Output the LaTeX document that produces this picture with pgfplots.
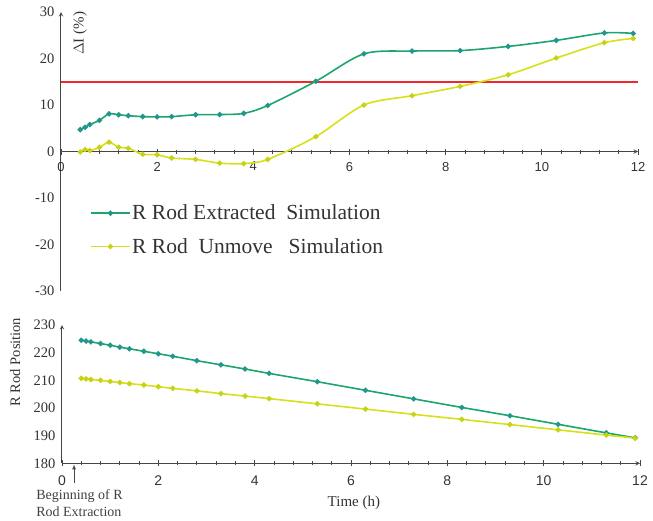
\documentclass[border=0pt]{standalone}
\usepackage{fontspec}
\setmainfont{Liberation Serif}
\newfontfamily\sansf{Liberation Sans}
\usepackage{pgfplots}
\pgfplotsset{compat=1.18}
\definecolor{cgreen}{RGB}{28,165,108}
\definecolor{cgreenm}{RGB}{35,150,140}
\definecolor{cyellow}{RGB}{215,225,25}
\definecolor{cyellowm}{RGB}{200,210,20}
\definecolor{cred}{RGB}{238,40,45}
\definecolor{caxis}{RGB}{70,70,70}
\pgfplotstableread{
x g y
0.4 4.7 -0.1
0.5 5.2 0.4
0.6 5.8 0.2
0.8 6.7 0.9
1.0 8.1 2.0
1.2 7.9 0.9
1.4 7.7 0.7
1.7 7.5 -0.6
2.0 7.45 -0.7
2.3 7.5 -1.4
2.8 7.9 -1.7
3.3 7.95 -2.5
3.8 8.2 -2.6
4.3 9.9 -1.7
5.3 15.1 3.2
6.3 21.0 10.0
7.3 21.6 12.0
8.3 21.7 14.0
9.3 22.6 16.5
10.3 23.9 20.1
11.3 25.5 23.4
11.9 25.4 24.3
}\topdata
\pgfplotstableread{
x g y
0.4 224.5 210.7
0.5 224.2 210.5
0.6 223.9 210.3
0.8 223.3 210.0
1.0 222.7 209.6
1.2 222.0 209.2
1.4 221.4 208.8
1.7 220.5 208.3
2.0 219.6 207.7
2.3 218.7 207.1
2.8 217.1 206.2
3.3 215.6 205.2
3.8 214.1 204.3
4.3 212.5 203.4
5.3 209.5 201.5
6.3 206.4 199.6
7.3 203.3 197.7
8.3 200.2 195.9
9.3 197.2 194.0
10.3 194.1 192.1
11.3 191.0 190.2
11.9 189.2 189.1
}\botdata
\begin{document}
\begin{tikzpicture}
\useasboundingbox (0,0) rectangle (653pt,-520pt);
\pgfplotsset{
 common/.style={
  scale only axis,
  xmin=0, xmax=12,
  xtick={0,2,...,12},
  minor x tick num=4,
  /pgf/number format/assume math mode=true,
  y tick label style={font=\fontsize{14.5}{17}\selectfont, text=black!80},
  axis line style={caxis, line width=1pt, -latex},
  tick style={draw=caxis, line width=0.8pt},
  major tick length=6pt, minor tick length=4pt,
  tick align=inside,
  every y tick/.append style={draw=none},
  hide obscured x ticks=false, hide obscured y ticks=false,
  clip=false,
 },
 gline/.style={cgreen, line width=1.6pt, mark=*, mark size=1.8pt, mark options={draw=cgreenm, fill=cgreenm}},
 yline/.style={cyellow, line width=1.6pt, mark=*, mark size=1.8pt, mark options={draw=cyellowm, fill=cyellowm}},
}
\begin{axis}[common, at={(61pt,-291pt)}, anchor=south west, width=577pt, height=279pt,
 ymin=-30, ymax=30, ytick={-30,-20,...,30},
 axis x line=middle, axis y line=left,
 x tick label style={font=\sansf\fontsize{13}{15}\selectfont, text=black!80, yshift=-4pt},
 ylabel={$\Delta$I (\%)},
 ylabel style={at={(axis description cs:0.033,0.923)}, anchor=center, font=\fontsize{15}{17}\selectfont, text=black!80},
 legend style={at={(axis cs:0.55,-10.6)}, anchor=north west, draw=none, fill=none,
   font=\fontsize{21.5}{25}\selectfont, row sep=13pt, text=black!80},
 legend cell align=left,
 legend image code/.code={\draw[mark repeat=2,mark phase=2,#1] plot coordinates {(0pt,0pt) (19pt,0pt) (38pt,0pt)};},
]
\addplot[cred, line width=1.5pt, forget plot] coordinates {(0,15) (12,15)};
\addplot[gline, smooth] table[x=x, y=g] {\topdata};
\addlegendentry{R Rod Extracted\ \ Simulation}
\addplot[yline, smooth] table[x=x, y=y] {\topdata};
\addlegendentry{R Rod\ \ Unmove\ \ \ Simulation}
\end{axis}
\begin{axis}[common, at={(62pt,-463.3pt)}, anchor=south west, width=578pt, height=138.3pt,
 ymin=180, ymax=230, ytick={180,190,...,230},
 axis lines=left,
 x tick label style={font=\sansf\fontsize{14}{16}\selectfont, text=black!80, yshift=-6pt},
 xlabel={Time (h)},
 xlabel style={at={(axis description cs:0.505,-0.286)}, anchor=center, font=\fontsize{15}{17}\selectfont, text=black!80},
 ylabel={R Rod Position},
 ylabel style={at={(axis description cs:-0.081,0.732)}, anchor=center, font=\fontsize{14.5}{17}\selectfont, text=black!80},
]
\addplot[gline] table[x=x, y=g] {\botdata};
\addplot[yline] table[x=x, y=y] {\botdata};
\node[font=\fontsize{14}{17}\selectfont, align=left, text=black!75] at (axis cs:0.363,165.5) {Beginning of R\\Rod Extraction};
\draw[-latex, caxis, line width=0.7pt] (axis cs:0.25,172.9) -- (axis cs:0.25,179.6);
\end{axis}
\end{tikzpicture}
\end{document}
